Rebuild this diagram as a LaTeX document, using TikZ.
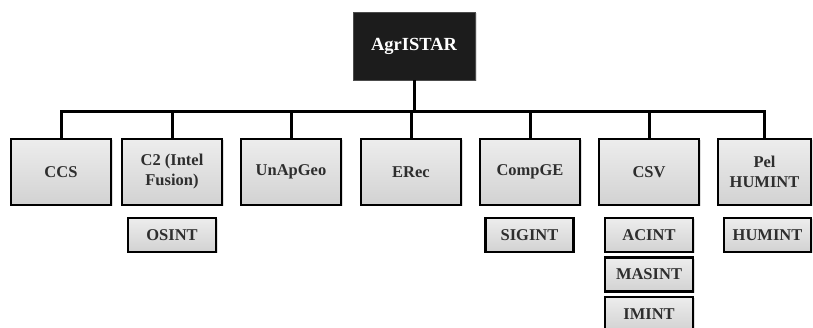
\documentclass[tikz,border=0pt]{standalone}
\usepackage{fontspec}
\setmainfont{Liberation Serif}
\usetikzlibrary{shadows}
\definecolor{rootfill}{HTML}{1C1C1C}
\definecolor{boxtop}{HTML}{EDEDED}
\definecolor{boxbot}{HTML}{D2D2D2}
\tikzset{
  unitbox/.style={draw=black, line width=2.4pt, top color=boxtop, bottom color=boxbot,
    drop shadow={shadow xshift=1.5pt, shadow yshift=-1.5pt, opacity=0.25},
    inner sep=0pt, align=center, font=\fontsize{16.5}{20}\selectfont\bfseries, text=black!82},
  mainbox/.style={unitbox, minimum width=100pt, minimum height=66pt},
  subbox/.style={unitbox, minimum width=88pt, minimum height=34pt},
  rootbox/.style={draw=black!70, line width=0.8pt, fill=rootfill, text=white,
    drop shadow={shadow xshift=1.5pt, shadow yshift=-1.5pt, opacity=0.25},
    minimum width=122pt, minimum height=68pt, inner sep=0pt,
    font=\fontsize{18.5}{22}\selectfont\bfseries},
  link/.style={draw=black, line width=3pt}
}
\begin{document}
\begin{tikzpicture}[x=1pt, y=-1pt]
  \useasboundingbox (0,0) rectangle (813,328);
  \clip (0,0) rectangle (813,328);
  \fill[white] (0,0) rectangle (813,328);

  % root of the hierarchy
  \node[rootbox] (root) at (414,46) {AgrISTAR};

  % first level units
  \node[mainbox] (ccs)    at (61,172)  {CCS};
  \node[mainbox] (c2)     at (172,172) {C2 (Intel\\Fusion)};
  \node[mainbox] (unap)   at (291,172) {UnApGeo};
  \node[mainbox] (erec)   at (411,172) {ERec};
  \node[mainbox] (compge) at (530,172) {CompGE};
  \node[mainbox] (csv)    at (649,172) {CSV};
  \node[mainbox, minimum width=93pt] (pel) at (764.5,172) {Pel\\HUMINT};

  % intelligence disciplines under each unit
  \node[subbox] (osint)  at (172,235)   {OSINT};
  \node[subbox] (sigint) at (529.5,235) {SIGINT};
  \node[subbox] (acint)  at (649,235)   {ACINT};
  \node[subbox] (masint) at (649,274.5) {MASINT};
  \node[subbox] (imint)  at (649,314)   {IMINT};
  \node[subbox, minimum width=87pt] (humint) at (767.5,235) {HUMINT};

  % connector bus
  \coordinate (bus) at (0,112);
  \draw[link] (root.south) -- (root.south |- bus);
  \draw[link, line cap=rect] (ccs.north |- bus) -- (pel.north |- bus);
  \foreach \n in {ccs,c2,unap,erec,compge,csv,pel}
    \draw[link] (\n.north) -- (\n.north |- bus);
\end{tikzpicture}
\end{document}
